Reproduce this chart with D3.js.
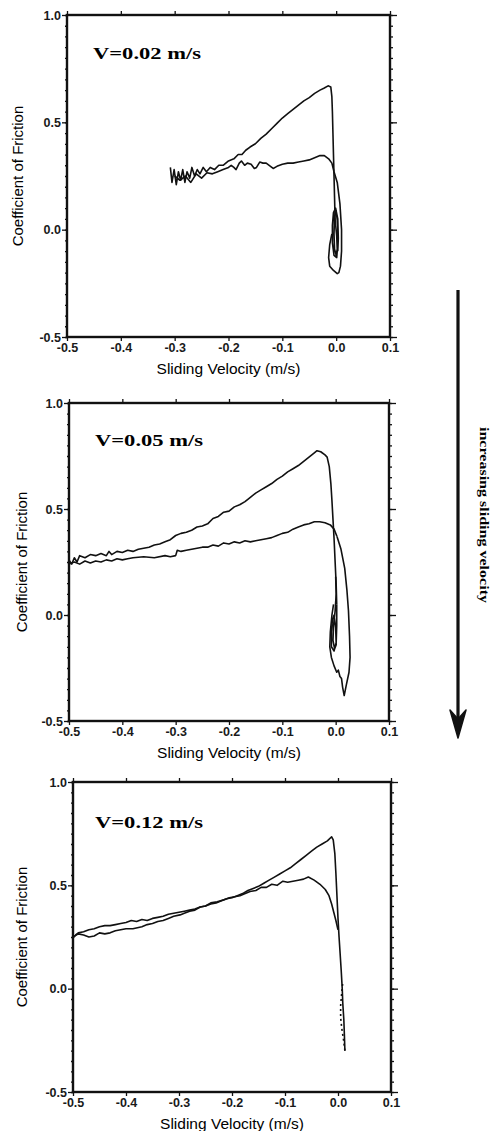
<!DOCTYPE html>
<html>
<head>
<meta charset="utf-8">
<script src="https://cdn.jsdelivr.net/npm/d3@7"></script>
<style>
  body { margin: 0; background: #fff; }
  svg { display: block; }
  .tick text { font-family: "Liberation Sans", Arial, sans-serif; font-size: 12.5px; font-weight: bold; fill: #1a1a1a; }
  .tick line, .domain { stroke: #111; }
</style>
</head>
<body>
<svg id="chart" width="496" height="1131"></svg>
<script>
// axis ticks
const xTicks = [-0.5, -0.4, -0.3, -0.2, -0.1, 0.0, 0.1];
const yTicks = [1.0, 0.5, 0.0, -0.5];
const yMinor = d3.range(-0.5, 1.0001, 0.05);
const speeds = ["V=0.02 m/s", "V=0.05 m/s", "V=0.12 m/s"];

// V = 0.02 m/s : loading branch, spiral near zero, return branch  [velocity, mu]
const p1Upper = [[-0.308,0.29],[-0.305,0.22],[-0.301,0.28],[-0.297,0.21],[-0.293,0.27],[-0.289,0.23],[-0.285,0.28],[-0.281,0.22],[-0.277,0.27],[-0.272,0.24],[-0.268,0.29],[-0.263,0.25],[-0.258,0.28],[-0.253,0.26],[-0.247,0.29],[-0.241,0.27],[-0.234,0.29],[-0.226,0.28],[-0.218,0.30],[-0.21,0.30],[-0.2,0.32],[-0.19,0.33],[-0.182,0.35],[-0.175,0.35],[-0.168,0.37],[-0.16,0.385],[-0.15,0.40],[-0.14,0.425],[-0.13,0.445],[-0.12,0.47],[-0.11,0.495],[-0.10,0.52],[-0.09,0.54],[-0.08,0.56],[-0.07,0.58],[-0.06,0.60],[-0.05,0.615],[-0.04,0.635],[-0.03,0.65],[-0.022,0.66],[-0.015,0.67],[-0.01,0.665],[-0.008,0.62],[-0.007,0.55],[-0.006,0.45],[-0.005,0.35],[-0.004,0.25],[-0.003,0.15],[-0.002,0.05]];
const p1Loop = [[-0.002,0.05],[0.001,-0.03],[0.002,-0.09],[0.0,-0.12],[-0.003,-0.09],[-0.004,-0.02],[-0.003,0.06],[0.0,0.09],[0.003,0.02],[0.003,-0.07],[0.001,-0.13],[-0.004,-0.12],[-0.007,-0.06],[-0.007,0.02],[-0.005,0.08],[-0.001,0.1],[0.003,0.05],[0.004,-0.04],[0.003,-0.1]];
const p1Lower = [[-0.004,0.27],[-0.008,0.31],[-0.014,0.33],[-0.022,0.345],[-0.03,0.345],[-0.04,0.335],[-0.05,0.325],[-0.06,0.32],[-0.07,0.315],[-0.08,0.31],[-0.09,0.31],[-0.1,0.305],[-0.11,0.295],[-0.117,0.285],[-0.122,0.295],[-0.13,0.31],[-0.136,0.31],[-0.142,0.315],[-0.148,0.29],[-0.152,0.285],[-0.158,0.305],[-0.165,0.31],[-0.17,0.3],[-0.176,0.32],[-0.18,0.31],[-0.186,0.28],[-0.19,0.29],[-0.195,0.3],[-0.2,0.29],[-0.21,0.28],[-0.22,0.27],[-0.23,0.26],[-0.24,0.265],[-0.25,0.24],[-0.26,0.26],[-0.27,0.22],[-0.28,0.25],[-0.29,0.23],[-0.3,0.25]];
const p1Outer = [[-0.004,0.27],[0.002,0.22],[0.007,0.12],[0.01,0.0],[0.01,-0.1],[0.008,-0.17],[0.005,-0.2],[0.002,-0.205],[-0.005,-0.19],[-0.012,-0.17],[-0.014,-0.13],[-0.012,-0.07],[-0.008,-0.02]];

// V = 0.05 m/s
const p2Upper = [[-0.5,0.26],[-0.495,0.24],[-0.49,0.27],[-0.485,0.25],[-0.48,0.28],[-0.47,0.27],[-0.46,0.285],[-0.45,0.28],[-0.44,0.29],[-0.43,0.28],[-0.425,0.3],[-0.42,0.285],[-0.41,0.3],[-0.4,0.295],[-0.39,0.305],[-0.38,0.3],[-0.37,0.31],[-0.36,0.315],[-0.35,0.32],[-0.34,0.33],[-0.33,0.335],[-0.32,0.345],[-0.31,0.355],[-0.3,0.375],[-0.29,0.385],[-0.28,0.39],[-0.27,0.4],[-0.26,0.415],[-0.25,0.42],[-0.24,0.43],[-0.23,0.455],[-0.22,0.465],[-0.21,0.485],[-0.2,0.49],[-0.19,0.51],[-0.18,0.52],[-0.17,0.535],[-0.16,0.555],[-0.15,0.575],[-0.14,0.59],[-0.13,0.605],[-0.12,0.62],[-0.11,0.64],[-0.1,0.655],[-0.09,0.675],[-0.08,0.69],[-0.07,0.705],[-0.06,0.725],[-0.05,0.745],[-0.04,0.765],[-0.035,0.775],[-0.028,0.77],[-0.02,0.755],[-0.016,0.745],[-0.012,0.70],[-0.009,0.62],[-0.007,0.54],[-0.005,0.45],[-0.003,0.36],[-0.001,0.25],[0.001,0.14],[0.002,0.05]];
const p2Loop = [[0.002,0.05],[0.002,-0.05],[0.001,-0.13],[-0.003,-0.17],[-0.008,-0.15],[-0.008,-0.08],[-0.006,-0.02],[-0.003,0.0],[0.0,-0.06],[0.001,-0.14],[-0.002,-0.16],[-0.005,-0.12],[-0.004,-0.05],[-0.001,0.02],[0.001,0.1],[0.0,0.18]];
const p2Lower = [[0.0025,0.37],[-0.003,0.405],[-0.01,0.425],[-0.02,0.435],[-0.03,0.44],[-0.04,0.44],[-0.05,0.43],[-0.06,0.425],[-0.07,0.415],[-0.08,0.405],[-0.09,0.39],[-0.1,0.385],[-0.11,0.375],[-0.12,0.365],[-0.13,0.36],[-0.14,0.355],[-0.15,0.35],[-0.16,0.345],[-0.17,0.35],[-0.18,0.34],[-0.19,0.345],[-0.2,0.335],[-0.21,0.34],[-0.22,0.325],[-0.23,0.33],[-0.24,0.32],[-0.25,0.32],[-0.26,0.315],[-0.27,0.31],[-0.28,0.305],[-0.29,0.3],[-0.297,0.305],[-0.3,0.28],[-0.31,0.275],[-0.32,0.28],[-0.34,0.27],[-0.36,0.275],[-0.38,0.27],[-0.39,0.265],[-0.4,0.26],[-0.41,0.265],[-0.42,0.255],[-0.43,0.26],[-0.44,0.25],[-0.45,0.255],[-0.46,0.245],[-0.47,0.255],[-0.48,0.24],[-0.49,0.25],[-0.5,0.24]];
const p2Outer = [[0.0025,0.37],[0.01,0.31],[0.017,0.22],[0.021,0.12],[0.024,0.02],[0.026,-0.1],[0.027,-0.2],[0.025,-0.27],[0.02,-0.33],[0.016,-0.38],[0.013,-0.34],[0.011,-0.3],[0.008,-0.29],[0.005,-0.26],[0.002,-0.27],[-0.003,-0.24],[-0.008,-0.2],[-0.011,-0.15],[-0.01,-0.08],[-0.007,0.0],[-0.004,0.05]];

// V = 0.12 m/s
const p3Upper = [[-0.5,0.245],[-0.495,0.26],[-0.49,0.27],[-0.48,0.275],[-0.47,0.285],[-0.46,0.29],[-0.45,0.3],[-0.44,0.305],[-0.43,0.305],[-0.42,0.31],[-0.41,0.315],[-0.4,0.32],[-0.39,0.33],[-0.38,0.325],[-0.37,0.335],[-0.36,0.33],[-0.35,0.34],[-0.34,0.345],[-0.33,0.35],[-0.32,0.36],[-0.31,0.365],[-0.3,0.37],[-0.29,0.375],[-0.28,0.38],[-0.27,0.385],[-0.26,0.395],[-0.25,0.4],[-0.24,0.41],[-0.23,0.415],[-0.22,0.425],[-0.21,0.435],[-0.2,0.44],[-0.19,0.45],[-0.18,0.46],[-0.17,0.475],[-0.16,0.485],[-0.15,0.495],[-0.14,0.51],[-0.13,0.525],[-0.12,0.54],[-0.11,0.555],[-0.1,0.57],[-0.09,0.585],[-0.08,0.605],[-0.07,0.625],[-0.06,0.645],[-0.05,0.665],[-0.04,0.685],[-0.03,0.7],[-0.02,0.715],[-0.012,0.735],[-0.009,0.72],[-0.006,0.655],[-0.004,0.56],[-0.002,0.45],[0.0,0.34],[0.002,0.25],[0.004,0.17],[0.006,0.09],[0.008,0.0],[0.009,-0.07],[0.011,-0.15],[0.012,-0.22],[0.013,-0.3]];
const p3Lower = [[0.0,0.285],[-0.004,0.33],[-0.008,0.37],[-0.012,0.41],[-0.017,0.45],[-0.024,0.48],[-0.034,0.505],[-0.045,0.525],[-0.056,0.54],[-0.065,0.53],[-0.075,0.525],[-0.085,0.52],[-0.095,0.515],[-0.104,0.52],[-0.115,0.5],[-0.125,0.505],[-0.135,0.49],[-0.145,0.49],[-0.155,0.475],[-0.166,0.47],[-0.175,0.46],[-0.185,0.45],[-0.195,0.445],[-0.205,0.44],[-0.215,0.43],[-0.228,0.42],[-0.24,0.415],[-0.25,0.4],[-0.26,0.395],[-0.27,0.38],[-0.28,0.375],[-0.29,0.365],[-0.298,0.357],[-0.31,0.35],[-0.32,0.34],[-0.33,0.33],[-0.34,0.325],[-0.35,0.315],[-0.36,0.31],[-0.37,0.3],[-0.387,0.29],[-0.4,0.29],[-0.41,0.285],[-0.42,0.28],[-0.43,0.27],[-0.44,0.265],[-0.45,0.27],[-0.46,0.255],[-0.47,0.25],[-0.48,0.26],[-0.49,0.265],[-0.5,0.25]];
const p3Tail = [[0.013,-0.3],[0.01,-0.24],[0.007,-0.19],[0.005,-0.14],[0.005,-0.08],[0.007,-0.02],[0.009,0.03]];

const panels = [
  {box: [67, 390, 15, 337], ytx: 18, lx: 26, ly: 44, label: speeds[0], solid: [p1Upper, p1Loop, p1Lower, p1Outer], dotted: []},
  {box: [69, 389, 403, 721], ytx: 22, lx: 26, ly: 43, label: speeds[1], solid: [p2Upper, p2Loop, p2Lower, p2Outer], dotted: []},
  {box: [73, 391, 782, 1092], ytx: 22, lx: 22, ly: 46, label: speeds[2], solid: [p3Upper, p3Lower], dotted: [p3Tail]}
];

const svg = d3.select("#chart");
const fmt = d => d.toFixed(1);

panels.forEach(p => {
  const [l, r, t, b] = p.box;
  const x = d3.scaleLinear().domain([-0.5, 0.1]).range([l, r]);
  const y = d3.scaleLinear().domain([-0.5, 1.0]).range([b, t]);
  const g = svg.append("g");

  // minor ticks on the vertical sides
  g.append("g").attr("transform", `translate(${l},0)`)
    .call(d3.axisLeft(y).tickValues(yMinor).tickSize(2).tickFormat(""))
    .call(s => s.select(".domain").remove());
  g.append("g").attr("transform", `translate(${r},0)`)
    .call(d3.axisRight(y).tickValues(yMinor).tickSize(3).tickFormat(""))
    .call(s => s.select(".domain").remove());

  g.append("g").attr("transform", `translate(0,${b})`)
    .call(d3.axisBottom(x).tickValues(xTicks).tickSize(4).tickPadding(2).tickFormat(fmt))
    .call(s => s.select(".domain").remove());
  g.append("g").attr("transform", `translate(0,${t})`)
    .call(d3.axisTop(x).tickValues(xTicks).tickSize(4).tickFormat(""))
    .call(s => s.select(".domain").remove());
  g.append("g").attr("transform", `translate(${l},0)`)
    .call(d3.axisLeft(y).tickValues(yTicks).tickSize(5).tickPadding(1).tickFormat(fmt))
    .call(s => s.select(".domain").remove());
  g.append("g").attr("transform", `translate(${r},0)`)
    .call(d3.axisRight(y).tickValues(yTicks).tickSize(7).tickFormat(""))
    .call(s => s.select(".domain").remove());
  g.selectAll(".tick line").attr("stroke-width", 1.3);

  g.append("rect")
    .attr("x", l).attr("y", t).attr("width", r - l).attr("height", b - t)
    .attr("fill", "none").attr("stroke", "#111").attr("stroke-width", 2.4);

  const line = d3.line().x(d => x(d[0])).y(d => y(d[1]));
  g.selectAll("path.curve").data(p.solid).join("path")
    .attr("class", "curve")
    .attr("d", line)
    .attr("fill", "none").attr("stroke", "#111").attr("stroke-width", 1.6)
    .attr("stroke-linejoin", "round");
  g.selectAll("path.dots").data(p.dotted).join("path")
    .attr("class", "dots")
    .attr("d", line)
    .attr("fill", "none").attr("stroke", "#111").attr("stroke-width", 1.6)
    .attr("stroke-dasharray", "2,3");

  g.append("text")
    .attr("x", l + p.lx).attr("y", t + p.ly)
    .attr("textLength", 108).attr("lengthAdjust", "spacingAndGlyphs")
    .style("font-family", "'Liberation Serif', 'Times New Roman', serif")
    .style("font-weight", "bold").style("font-size", "16px")
    .text(p.label);

  g.append("text")
    .attr("x", (l + r) / 2).attr("y", b + 37)
    .attr("text-anchor", "middle")
    .style("font-family", "'Liberation Sans', Arial, sans-serif").style("font-size", "15.5px")
    .text("Sliding Velocity (m/s)");

  g.append("text")
    .attr("transform", `translate(${p.ytx + 5},${(t + b) / 2}) rotate(-90)`)
    .attr("text-anchor", "middle")
    .style("font-family", "'Liberation Sans', Arial, sans-serif").style("font-size", "15px")
    .text("Coefficient of Friction");
});

// direction arrow on the right
svg.append("line")
  .attr("x1", 458).attr("y1", 290).attr("x2", 458).attr("y2", 728)
  .attr("stroke", "#111").attr("stroke-width", 3.2);
svg.append("path")
  .attr("d", "M450,710 L458,738 L466,710 L458,719 Z")
  .attr("fill", "#111").attr("stroke", "#111").attr("stroke-width", 1.5)
  .attr("stroke-linejoin", "round");
svg.append("text")
  .attr("transform", "translate(480,515) rotate(90)")
  .attr("text-anchor", "middle")
  .attr("textLength", 176).attr("lengthAdjust", "spacingAndGlyphs")
  .style("font-family", "'Liberation Serif', 'Times New Roman', serif")
  .style("font-weight", "bold").style("font-size", "13px")
  .text("increasing sliding velocity");
</script>
</body>
</html>
